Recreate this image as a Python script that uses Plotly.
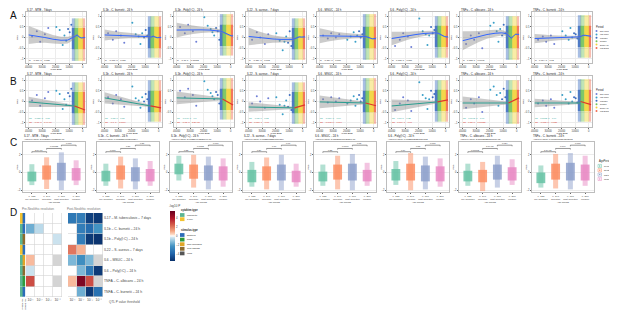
import plotly.graph_objects as go

W, H = 617, 311
FONT = "Liberation Sans, Arial, sans-serif"

# ---------------- data ----------------
PANEL_TITLES = ["IL17 - MTB - 7days", "IL1b - C. burnetii - 24 h", "IL1b - Poly(I:C) - 24 h",
                "IL22 - S. aureus - 7 days", "IL6 - MSUC - 24 h", "IL6 - Poly(I:C) - 24 h",
                "TNFa - C. albicans - 24 h", "TNFa - C. burnetii - 24 h"]

PERIODS = ["Early Upper Paleolithic", "Late Upper Paleolithic", "Mesolithic",
           "Neolithic", "Bronze Age", "Post-Bronze Age"]
PERIOD_COLORS = ["#6F7FD6", "#3AA0C8", "#3E6FC0", "#74C35A", "#F2D43A", "#F26B4F"]

YEAR_TICKS = [-40000, -30000, -20000, -10000, 0]
YEAR_LABELS = ["40000", "30000", "20000", "10000", "0"]
PRS_TICKS = [-1, -0.5, 0, 0.5, 1]

# sparse pre-Neolithic samples (same dates in every panel)
SPARSE_X = [-37500, -34000, -31500, -28000, -25500, -19500, -17000, -14800, -13500, -12200, -10800, -9600, -8400]
SPARSE_PERIOD = [0, 0, 0, 0, 0, 1, 1, 1, 1, 1, 2, 2, 2]
SPARSE_Y = [
    [0.05, 0.3, -0.2, 0.15, 0.45, 0.5, 0.35, -0.35, 0.1, -0.15, 0.4, 0.25, 0.6],
    [0.2, -0.1, 0.3, 0.1, -0.25, 0.7, 0.15, 0.05, -0.3, 0.2, 0.0, 0.35, 0.1],
    [0.5, 0.2, 0.6, 0.3, -0.2, 0.95, 0.55, 0.4, 0.25, 0.1, 0.45, 0.3, -0.1],
    [-0.1, 0.25, 0.0, -0.3, 0.15, 0.2, -0.15, -0.6, -0.2, 0.05, -0.25, 0.3, -0.4],
    [0.1, -0.05, 0.2, 0.0, 0.15, -0.1, 0.05, 0.25, -0.2, 0.1, 0.3, 0.0, 0.15],
    [-0.4, -0.1, 0.2, 0.05, -0.45, 0.9, 0.3, 0.15, -0.35, 0.1, 0.5, 0.2, 0.35],
    [-0.3, 0.1, -0.1, 0.2, -0.5, 0.55, 0.7, 0.3, -0.2, 0.4, 0.1, 0.6, 0.2],
    [-0.1, 0.05, -0.2, 0.1, -0.3, 0.3, 0.1, -0.1, 0.45, 0.0, 0.2, 0.15, -0.05],
]

# dense post-Mesolithic cloud, summarised as period bands
CLOUD_PERIOD = [2, 3, 4, 5]
CLOUD_X0 = [-8000, -6000, -3200, 200]
CLOUD_X1 = [-5500, -3000, 300, 1800]
CLOUD_LO = [-1.1, -0.95, -0.85, -1.05, -1.05, -0.95, -1.05, -0.95]
CLOUD_HI = [0.9, 1.0, 1.1, 0.9, 1.1, 1.0, 1.0, 1.05]
CORE_LO = [-0.55, -0.5, -0.4, -0.55, -0.5, -0.45, -0.5, -0.45]
CORE_HI = [0.45, 0.5, 0.6, 0.45, 0.5, 0.55, 0.55, 0.55]

# LOESS fits (panel A)
FIT_X = [-40000, -34000, -28000, -22000, -16000, -11000, -7500, -5500, -4000, -2500, -1000, 500, 1800]
FIT_Y = [
    [0.12, 0.07, 0.0, -0.08, -0.13, -0.12, -0.02, 0.06, 0.12, 0.02, -0.02, 0.0, 0.0],
    [0.12, 0.11, 0.1, 0.09, 0.07, 0.05, 0.04, 0.02, 0.06, 0.02, -0.01, 0.0, 0.0],
    [0.35, 0.36, 0.36, 0.36, 0.35, 0.33, 0.3, 0.25, 0.2, 0.15, 0.1, 0.08, 0.08],
    [0.05, 0.0, -0.04, -0.07, -0.09, -0.1, -0.09, -0.05, 0.0, 0.03, 0.02, 0.02, 0.03],
    [0.08, 0.08, 0.07, 0.07, 0.07, 0.06, 0.05, 0.04, 0.02, -0.03, -0.06, -0.05, -0.05],
    [-0.05, 0.02, 0.08, 0.14, 0.19, 0.22, 0.22, 0.2, 0.14, 0.1, 0.05, 0.03, 0.03],
    [-0.15, -0.05, 0.05, 0.14, 0.2, 0.22, 0.18, 0.08, -0.03, 0.05, 0.15, 0.15, 0.14],
    [-0.05, -0.04, -0.03, -0.02, -0.01, 0.0, 0.03, 0.06, 0.1, 0.1, 0.08, 0.06, 0.06],
]
FIT_SE = [
    [0.42, 0.33, 0.25, 0.2, 0.17, 0.16, 0.12, 0.08, 0.06, 0.04, 0.03, 0.04, 0.06],
    [0.26, 0.2, 0.16, 0.13, 0.11, 0.09, 0.08, 0.06, 0.05, 0.04, 0.03, 0.04, 0.06],
    [0.35, 0.26, 0.2, 0.15, 0.12, 0.1, 0.08, 0.06, 0.05, 0.04, 0.03, 0.04, 0.06],
    [0.42, 0.32, 0.24, 0.18, 0.14, 0.11, 0.09, 0.06, 0.05, 0.04, 0.03, 0.04, 0.06],
    [0.35, 0.27, 0.2, 0.15, 0.12, 0.1, 0.08, 0.06, 0.05, 0.04, 0.03, 0.04, 0.06],
    [0.32, 0.25, 0.19, 0.15, 0.12, 0.1, 0.08, 0.06, 0.05, 0.04, 0.03, 0.04, 0.06],
    [0.45, 0.35, 0.26, 0.2, 0.16, 0.13, 0.1, 0.07, 0.05, 0.04, 0.03, 0.04, 0.06],
    [0.22, 0.18, 0.14, 0.11, 0.09, 0.08, 0.06, 0.05, 0.04, 0.04, 0.03, 0.04, 0.06],
]
A_STATS = ["R = -0.066, p = 0.038", "R = -0.071, p = 0.026", "R = -0.11, p = 0.00052",
           "R = -0.059, p = 0.063", "R = -0.054, p = 0.088", "R = 0.062, p = 0.051",
           "R = 0.083, p = 0.0093", "R = 0.074, p = 0.02"]

# linear fits (panel B)
PRE_FIT_X = [-40000, -6000]
POST_FIT_X = [-6000, 1800]
PRE_Y = [[-0.02, -0.21], [0.17, -0.21], [0.17, 0.12], [-0.26, -0.3],
         [-0.02, -0.07], [-0.21, -0.02], [-0.07, -0.07], [-0.07, -0.07]]
PRE_SE = [[0.24, 0.05], [0.26, 0.05], [0.3, 0.06], [0.22, 0.05],
          [0.3, 0.06], [0.3, 0.06], [0.3, 0.06], [0.2, 0.05]]
POST_Y = [[-0.21, -0.4], [-0.21, -0.3], [0.12, -0.16], [-0.3, -0.16],
          [-0.07, -0.2], [-0.02, 0.08], [-0.07, 0.17], [0.0, -0.15]]
B_STATS_PRE = ["R1 = -0.026, p = 0.88", "R1 = -0.13, p = 0.15", "R1 = -0.048, p = 0.6",
               "R1 = -0.02, p = 0.83", "R1 = -0.019, p = 0.84", "R1 = 0.11, p = 0.23",
               "R1 = 0.0042, p = 0.96", "R1 = 0.0012, p = 0.99"]
B_STATS_POST = ["R2 = -0.18, p = 1.4e-06", "R2 = -0.1, p = 0.0069", "R2 = -0.15, p = 5.2e-05",
                "R2 = 0.051, p = 0.18", "R2 = -0.093, p = 0.014", "R2 = 0.069, p = 0.07",
                "R2 = 0.13, p = 0.00055", "R2 = -0.085, p = 0.025"]

# panel C
AGE_PERIODS = ["pre-Neolithic", "Neolithic", "post-Neolithic", "Modern"]
AGE_COLORS = ["#66C2A5", "#FC8D62", "#8DA0CB", "#E78AC3"]
AGE_N = ["n=122", "n=347", "n=808", "n=288"]
ANOVA = ["Anova p-value: 3.69803094775295e-07", "Anova p-value: 0.00118879602900364",
         "Anova p-value: 3.96221474322004e-06", "Anova p-value: 0.00230958510069116",
         "Anova p-value: 8.15036890672029e-06", "Anova p-value: 0.00230636251784703",
         "Anova p-value: 2.80002728636667e-08", "Anova p-value: 0.00716716867343963"]
C_LO = [[-1.42, -1.86, -1.98, -1.42], [-1.5, -1.8, -1.9, -1.5], [-0.9, -1.7, -1.9, -1.6],
        [-1.6, -1.9, -2.0, -1.6], [-1.5, -1.9, -2.0, -1.5], [-1.4, -2.0, -1.9, -1.6],
        [-1.5, -2.1, -1.7, -1.4], [-1.7, -1.8, -1.9, -1.5]]
C_HI = [[0.94, 1.72, 2.28, 1.38], [1.0, 1.8, 1.6, 1.3], [1.9, 2.0, 1.8, 1.6],
        [1.2, 1.7, 2.0, 1.0], [0.9, 1.9, 2.1, 1.1], [1.3, 2.2, 1.8, 1.6],
        [1.0, 1.2, 1.9, 1.5], [0.8, 2.1, 2.2, 1.9]]
C_CORE_LO = [[-1.0, -0.8, -0.9, -0.9], [-1.0, -0.8, -1.0, -1.0], [-0.2, -0.7, -0.9, -0.9],
             [-1.1, -0.9, -0.9, -1.1], [-1.0, -0.8, -0.9, -1.0], [-0.9, -0.9, -1.0, -1.0],
             [-1.0, -1.1, -0.8, -0.9], [-1.2, -0.8, -0.9, -0.9]]
C_CORE_HI = [[0.1, 0.8, 1.1, 0.5], [0.2, 0.8, 0.6, 0.4], [1.0, 0.9, 0.8, 0.7],
             [0.3, 0.7, 0.9, 0.2], [0.1, 0.9, 1.0, 0.3], [0.4, 1.0, 0.8, 0.7],
             [0.2, 0.3, 0.9, 0.6], [0.0, 1.0, 1.1, 0.9]]
P12 = ["3.7e-07", "0.008", "0.22", "0.39", "0.35", "0.19", "0.00063", "1.1e-05"]
P23 = ["0.00033", "0.37", "0.0053", "0.76", "0.0079", "0.55", "1.6e-05", "0.097"]
P34 = ["0.088", "0.31", "0.076", "0.67", "0.85", "0.088", "0.024", "0.088"]
BRACKET_LEVELS = [2.35, 2.72, 3.09]

# panel D
ROW_LABELS = ["IL17 – M. tuberculosis – 7 days", "IL1b – C. burnetii – 24 h",
              "IL1b – Poly(I:C) – 24 h", "IL22 – S. aureus – 7 days", "IL6 – MSUC – 24 h",
              "IL6 – Poly(I:C) – 24 h", "TNFA – C. albicans – 24 h", "TNFA – C. burnetii – 24 h"]
THRESHOLDS = ["10⁻¹", "10⁻²", "10⁻³", "10⁻⁴"]
PRE_P = [[0, 0, 0, 0], [-1.6, -0.6, 0, 0], [0, 0, 0, -0.4], [0, 0, 0, 0],
         [0.8, 0, 0, None], [-0.4, 0, 0, 0], [2.8, 0, 0, None], [0, 0, 0, 0]]
POST_P = [[-3.2, -3.0, -5.0, -5.2], [0, -3.0, -3.6, -2.2], [0, -3.0, -5.2, -5.4],
          [2.0, 0.9, 0, 0], [-1.4, -2.4, -1.4, None], [0, -1.4, -3.2, -5.2],
          [0.8, 5.0, 2.8, None], [0, -1.6, -5.2, -3.4]]
CYTO_TYPES = ["Monocyte", "T cell"]
CYTO_COLORS = ["#5BB592", "#F2C230"]
STIM_TYPES = ["bacteria", "fungi", "Non-microbial", "TLR ligands", "virus"]
STIM_COLORS = ["#2B6CB8", "#2E9A3C", "#E0A526", "#8C6B2F", "#555555"]
ROW_CYTO = ["T cell", "Monocyte", "Monocyte", "T cell", "Monocyte", "Monocyte", "Monocyte", "Monocyte"]
ROW_STIM = ["bacteria", "bacteria", "TLR ligands", "bacteria", "Non-microbial", "TLR ligands", "fungi", "bacteria"]
P_SCALE = [[0, "#08306B"], [0.15, "#2166AC"], [0.3, "#4393C3"], [0.4, "#92C5DE"],
           [0.47, "#D1E5F0"], [0.5, "#FFFFFF"], [0.53, "#FDDBC7"], [0.6, "#F4A582"],
           [0.72, "#D6604D"], [0.85, "#B2182B"], [1, "#67001F"]]

# ---------------- layout helpers ----------------
fig = go.Figure()
annots = []
shapes = []
_count = [0]


def new_axes(x0, x1, y0, y1, xkw=None, ykw=None):
    _count[0] += 1
    k = _count[0]
    xn = "x" if k == 1 else f"x{k}"
    yn = "y" if k == 1 else f"y{k}"
    xa = dict(domain=[x0 / W, x1 / W], anchor=yn, tickangle=0)
    ya = dict(domain=[1 - y1 / H, 1 - y0 / H], anchor=xn, tickangle=0)
    xa.update(xkw or {})
    ya.update(ykw or {})
    fig.update_layout(**{("xaxis" if k == 1 else f"xaxis{k}"): xa,
                         ("yaxis" if k == 1 else f"yaxis{k}"): ya})
    return xn, yn


def text(x, y, s, size=3.0, color="#222", anchor="left", angle=0, bold=False):
    annots.append(dict(x=x / W, y=1 - y / H, xref="paper", yref="paper", text=f"<b>{s}</b>" if bold else s,
                       showarrow=False, xanchor=anchor, yanchor="middle", textangle=angle, borderpad=0,
                       font=dict(size=size, color=color, family=FONT)))


def frame_axis(**kw):
    d = dict(showline=True, mirror=True, linecolor="#BDBDBD", linewidth=0.6, showgrid=True,
             gridcolor="#ECECEC", gridwidth=0.5, zeroline=False, ticks="outside", ticklen=1.2,
             tickwidth=0.5, tickcolor="#666", tickfont=dict(size=2.6, color="#444", family=FONT))
    d.update(kw)
    return d


def discrete(colors):
    n = len(colors)
    cs = []
    for k, c in enumerate(colors):
        cs += [[k / n, c], [(k + 1) / n, c]]
    return cs


AB_X0 = [18, 94, 166, 238, 309, 381, 452, 524]
AB_W = 60
ROWS_AB = [(4, 55), (68, 119)]

# ---------------- panels A and B ----------------
for i in range(8):
    x0 = AB_X0[i]
    for r, (top, bot) in enumerate(ROWS_AB):
        xn, yn = new_axes(x0, x0 + AB_W, top, bot,
                          frame_axis(range=[-42000, 2500], tickvals=YEAR_TICKS, ticktext=YEAR_LABELS),
                          frame_axis(range=[-1.2, 1.2], tickvals=PRS_TICKS))
        # dense cloud bands
        for s in range(len(CLOUD_PERIOD)):
            c = PERIOD_COLORS[CLOUD_PERIOD[s]]
            xm = (CLOUD_X0[s] + CLOUD_X1[s]) / 2
            wd = CLOUD_X1[s] - CLOUD_X0[s]
            fig.add_trace(go.Bar(x=[xm], y=[CLOUD_HI[i] - CLOUD_LO[i]], base=[CLOUD_LO[i]], width=[wd],
                                 marker=dict(color=c, line=dict(width=0)), opacity=0.45,
                                 xaxis=xn, yaxis=yn, showlegend=False, hoverinfo="skip"))
            fig.add_trace(go.Bar(x=[xm], y=[CORE_HI[i] - CORE_LO[i]], base=[CORE_LO[i]], width=[wd],
                                 marker=dict(color=c, line=dict(width=0)), opacity=0.85,
                                 xaxis=xn, yaxis=yn, showlegend=False, hoverinfo="skip"))
        # sparse points
        fig.add_trace(go.Scatter(x=SPARSE_X, y=SPARSE_Y[i], mode="markers",
                                 marker=dict(size=2, color=[PERIOD_COLORS[p] for p in SPARSE_PERIOD]),
                                 xaxis=xn, yaxis=yn, showlegend=False, hoverinfo="skip"))
        if r == 0:
            up = [y + s for y, s in zip(FIT_Y[i], FIT_SE[i])]
            lo = [y - s for y, s in zip(FIT_Y[i], FIT_SE[i])]
            fig.add_trace(go.Scatter(x=FIT_X + FIT_X[::-1], y=up + lo[::-1], fill="toself", mode="none",
                                     fillcolor="rgba(140,140,140,0.45)", xaxis=xn, yaxis=yn,
                                     showlegend=False, hoverinfo="skip"))
            fig.add_trace(go.Scatter(x=FIT_X, y=FIT_Y[i], mode="lines", line=dict(color="#3366FF", width=1),
                                     xaxis=xn, yaxis=yn, showlegend=False, hoverinfo="skip"))
            text(x0 + 2, 52, A_STATS[i], size=2.2)
        else:
            up = [y + s for y, s in zip(PRE_Y[i], PRE_SE[i])]
            lo = [y - s for y, s in zip(PRE_Y[i], PRE_SE[i])]
            fig.add_trace(go.Scatter(x=PRE_FIT_X + PRE_FIT_X[::-1], y=up + lo[::-1], fill="toself", mode="none",
                                     fillcolor="rgba(140,140,140,0.45)", xaxis=xn, yaxis=yn,
                                     showlegend=False, hoverinfo="skip"))
            fig.add_trace(go.Scatter(x=PRE_FIT_X, y=PRE_Y[i], mode="lines", line=dict(color="#2A9D8F", width=1),
                                     xaxis=xn, yaxis=yn, showlegend=False, hoverinfo="skip"))
            fig.add_trace(go.Scatter(x=POST_FIT_X, y=POST_Y[i], mode="lines", line=dict(color="#E0352B", width=1.2),
                                     xaxis=xn, yaxis=yn, showlegend=False, hoverinfo="skip"))
            text(x0 + 2, 110.5, B_STATS_PRE[i], size=2.2, color="#2A9D8F")
            text(x0 + 2, 114.5, B_STATS_POST[i], size=2.2, color="#E0352B")
        text(x0, top - 2.2, PANEL_TITLES[i], size=2.9)
        text(x0 + AB_W / 2, bot + 6.3, "Years BCE", size=2.4, anchor="center")
        text(x0 - 8.5, (top + bot) / 2, "PRS", size=2.4, anchor="center", angle=-90)

# Period legends (A and B)
for ly in (19, 82):
    text(587, ly, "Period", size=2.6)
    for k, name in enumerate(PERIODS):
        cy = ly + 4 + k * 3.4
        shapes.append(dict(type="circle", xref="paper", yref="paper",
                           x0=587.5 / W, x1=589.5 / W, y0=1 - (cy + 1) / H, y1=1 - (cy - 1) / H,
                           fillcolor=PERIOD_COLORS[k], line=dict(width=0)))
        text(591, cy, name, size=1.7)

# ---------------- panel C ----------------
C_X0 = [15, 89, 162, 235, 306, 379, 451, 524]
C_W = 62
for i in range(8):
    x0 = C_X0[i]
    xn, yn = new_axes(x0, x0 + C_W, 134, 184,
                      frame_axis(range=[-0.6, 3.6], tickvals=[0, 1, 2, 3], showgrid=False,
                                 ticktext=[f"{n}<br>{g}" for n, g in zip(AGE_N, AGE_PERIODS)],
                                 tickfont=dict(size=2.4, color="#444", family=FONT)),
                      frame_axis(range=[-2.2, 3.45], tickvals=[-2, 0, 2]))
    for g in range(4):
        fig.add_trace(go.Bar(x=[g], y=[C_HI[i][g] - C_LO[i][g]], base=[C_LO[i][g]], width=[0.34],
                             marker=dict(color=AGE_COLORS[g], line=dict(width=0)), opacity=0.5,
                             xaxis=xn, yaxis=yn, showlegend=False, hoverinfo="skip"))
        fig.add_trace(go.Bar(x=[g], y=[C_CORE_HI[i][g] - C_CORE_LO[i][g]], base=[C_CORE_LO[i][g]], width=[0.6],
                             marker=dict(color=AGE_COLORS[g], line=dict(width=0)), opacity=0.85,
                             xaxis=xn, yaxis=yn, showlegend=False, hoverinfo="skip"))
    for (a, b), lev, lab in zip([(0, 1), (1, 2), (2, 3)], BRACKET_LEVELS, [P12[i], P23[i], P34[i]]):
        fig.add_trace(go.Scatter(x=[a, a, b, b], y=[lev - 0.12, lev, lev, lev - 0.12], mode="lines",
                                 line=dict(color="#333", width=0.5), xaxis=xn, yaxis=yn,
                                 showlegend=False, hoverinfo="skip"))
        annots.append(dict(x=(a + b) / 2, y=lev, xref=xn, yref=yn, text=lab, showarrow=False,
                           yanchor="bottom", borderpad=0, font=dict(size=2.2, color="#333", family=FONT)))
    text(x0, 127.6, PANEL_TITLES[i], size=2.9)
    text(x0, 131.4, ANOVA[i], size=2.3)
    text(x0 + C_W / 2, 194.5, "Age Period", size=2.4, anchor="center")
    text(x0 - 6.5, 159, "PRS", size=2.4, anchor="center", angle=-90)

text(590, 153, "AgePeriod", size=2.6)
for k, name in enumerate(AGE_PERIODS):
    cy = 158 + k * 4.3
    shapes.append(dict(type="rect", xref="paper", yref="paper", x0=590 / W, x1=593.5 / W,
                       y0=1 - (cy + 1.6) / H, y1=1 - (cy - 1.6) / H, fillcolor="white",
                       line=dict(color=AGE_COLORS[k], width=0.5)))
    shapes.append(dict(type="circle", xref="paper", yref="paper", x0=591 / W, x1=592.5 / W,
                       y0=1 - (cy + 0.75) / H, y1=1 - (cy - 0.75) / H, fillcolor=AGE_COLORS[k],
                       line=dict(width=0)))
    text(595, cy, name, size=1.9)

# ---------------- panel D ----------------
D_TOP, D_BOT = 205, 289
ax_kw = dict(showgrid=False, zeroline=False, showline=False, ticks="",
             tickfont=dict(size=3.4, color="#444", family=FONT))
# annotation columns
xn, yn = new_axes(12, 17.2, D_TOP, D_BOT, dict(ax_kw, showticklabels=False, range=[-0.5, 1.5]),
                  dict(ax_kw, showticklabels=False, autorange="reversed"))
fig.add_trace(go.Heatmap(x=[0], y=ROW_LABELS, z=[[CYTO_TYPES.index(c)] for c in ROW_CYTO],
                         colorscale=discrete(CYTO_COLORS), zmin=-0.5, zmax=len(CYTO_TYPES) - 0.5,
                         showscale=False, xaxis=xn, yaxis=yn, hoverinfo="skip", ygap=0.3))
fig.add_trace(go.Heatmap(x=[1], y=ROW_LABELS, z=[[STIM_TYPES.index(s)] for s in ROW_STIM],
                         colorscale=discrete(STIM_COLORS), zmin=-0.5, zmax=len(STIM_TYPES) - 0.5,
                         showscale=False, xaxis=xn, yaxis=yn, hoverinfo="skip", ygap=0.3))
text(13.2, 296.5, "cytokine.type", size=1.9, anchor="center", angle=-90)
text(16.2, 296.5, "stimulus.type", size=1.9, anchor="center", angle=-90)

for j, (mat, xa0, xa1) in enumerate([(PRE_P, 18, 54), (POST_P, 60, 95)]):
    ykw = dict(ax_kw, autorange="reversed", showticklabels=(j == 1), side="right")
    xn, yn = new_axes(xa0, xa1, D_TOP, D_BOT, dict(ax_kw, side="bottom"), ykw)
    fig.add_trace(go.Heatmap(x=THRESHOLDS, y=ROW_LABELS, z=[[1] * len(THRESHOLDS) for _ in ROW_LABELS],
                             colorscale=[[0, "#D4D4D4"], [1, "#D4D4D4"]], showscale=False,
                             xaxis=xn, yaxis=yn, hoverinfo="skip"))
    fig.add_trace(go.Heatmap(x=THRESHOLDS, y=ROW_LABELS, z=mat, colorscale=P_SCALE, zmin=-5.5, zmax=5.5,
                             xgap=0.6, ygap=0.6, xaxis=xn, yaxis=yn, hoverinfo="skip",
                             showscale=(j == 1),
                             colorbar=dict(x=162 / W, xanchor="left", y=1 - 228 / H, yanchor="middle",
                                           len=50 / H, lenmode="fraction", thickness=4.5, outlinewidth=0,
                                           xpad=0, ypad=0, tickvals=[-4, -2, 0, 2, 4], ticklen=1,
                                           tickwidth=0.5, tickfont=dict(size=2.8, color="#444", family=FONT))))

text(13, 201, "Pre-Neolithic revolution", size=3.1, color="#777")
text(58, 201, "Post-Neolithic revolution", size=3.1, color="#777")
text(100, 293.5, "QTL P value threshold", size=3.1, color="#555")
text(160, 198, "-log10 P", size=3.0, color="#444")

text(172, 202, "cytokine.type", size=2.6, bold=True)
for k, name in enumerate(CYTO_TYPES):
    cy = 207 + k * 4.2
    shapes.append(dict(type="rect", xref="paper", yref="paper", x0=172 / W, x1=176.5 / W,
                       y0=1 - (cy + 1.9) / H, y1=1 - (cy - 1.9) / H, fillcolor=CYTO_COLORS[k], line=dict(width=0)))
    text(178, cy, name, size=2.4)
text(172, 222, "stimulus.type", size=2.6, bold=True)
for k, name in enumerate(STIM_TYPES):
    cy = 227 + k * 4.6
    shapes.append(dict(type="rect", xref="paper", yref="paper", x0=172 / W, x1=176.5 / W,
                       y0=1 - (cy + 1.9) / H, y1=1 - (cy - 1.9) / H, fillcolor=STIM_COLORS[k], line=dict(width=0)))
    text(178, cy, name, size=2.4)

# panel letters
for letter, ly in [("A", 8), ("B", 73), ("C", 134), ("D", 204)]:
    text(1, ly, letter, size=10, color="#111")

fig.update_layout(width=W, height=H, margin=dict(l=0, r=0, t=0, b=0), paper_bgcolor="white",
                  plot_bgcolor="white", barmode="overlay", showlegend=False, hovermode=False,
                  annotations=annots, shapes=shapes, font=dict(family=FONT, size=3.0))
fig.write_html("out.html", config={"displayModeBar": False})
